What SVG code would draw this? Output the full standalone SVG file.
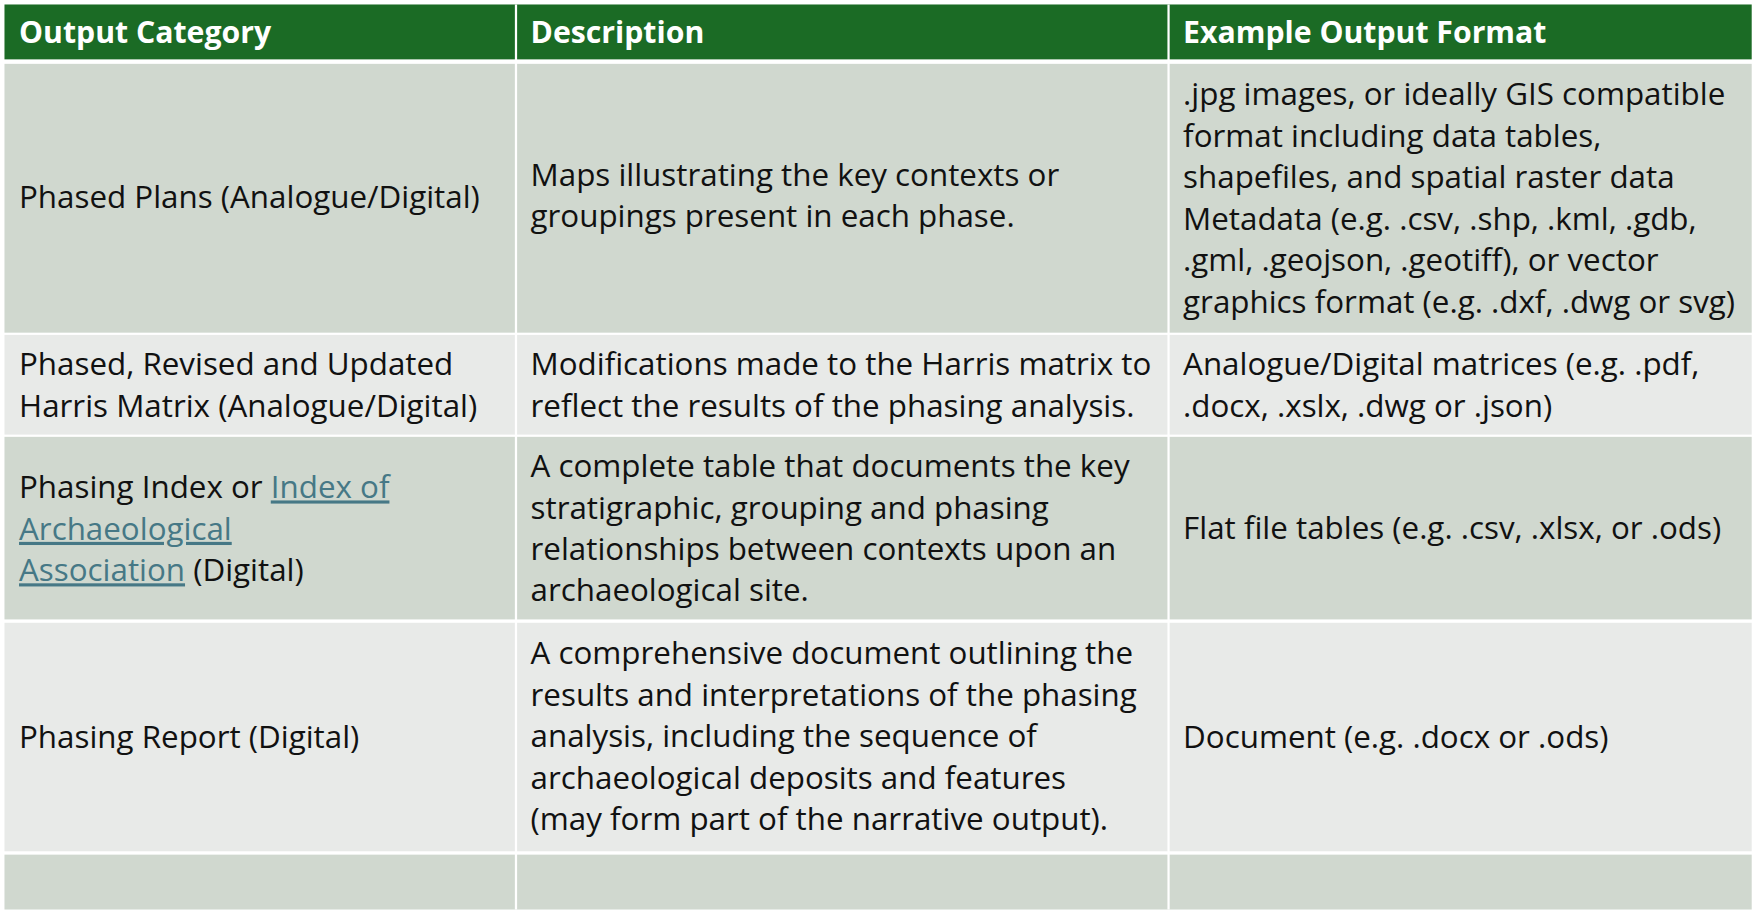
<svg xmlns="http://www.w3.org/2000/svg" width="1755" height="914" viewBox="0 0 1755 914">
<style>
text{font-family:"Open Sans","Liberation Sans",Arial,sans-serif;font-size:28px;fill:#111}
.h{font-weight:bold;fill:#fff;font-size:27px}
.a{fill:#d0d8cf}.b{fill:#e8eae8}
.l{fill:#467886;text-decoration:underline}
</style>
<rect width="1755" height="914" fill="#fff"/>
<g transform="scale(1.1193,1.1201)">
<g id="header">
<rect x="4" y="4" width="1561" height="49" fill="#1b6b25"/>
<text class="h" x="17" y="38">Output Category</text>
<text class="h" x="474" y="38">Description</text>
<text class="h" x="1057" y="38">Example Output Format</text>
</g>
<g id="row1">
<rect class="a" x="4" y="57" width="1561" height="240"/>
<text x="17" y="186">Phased Plans (Analogue/Digital)</text>
<text x="474" y="166">Maps illustrating the key contexts or</text>
<text x="474" y="203">groupings present in each phase.</text>
<text x="1057" y="94">.jpg images, or ideally GIS compatible</text>
<text x="1057" y="131">format including data tables,</text>
<text x="1057" y="168">shapefiles, and spatial raster data</text>
<text x="1057" y="205">Metadata (e.g. .csv, .shp, .kml, .gdb,</text>
<text x="1057" y="242">.gml, .geojson, .geotiff), or vector</text>
<text x="1057" y="279">graphics format (e.g. .dxf, .dwg or svg)</text>
</g>
<g id="row2">
<rect class="b" x="4" y="299" width="1561" height="89"/>
<text x="17" y="335">Phased, Revised and Updated</text>
<text x="17" y="372">Harris Matrix (Analogue/Digital)</text>
<text x="474" y="335">Modifications made to the Harris matrix to</text>
<text x="474" y="372">reflect the results of the phasing analysis.</text>
<text x="1057" y="335">Analogue/Digital matrices (e.g. .pdf,</text>
<text x="1057" y="372">.docx, .xslx, .dwg or .json)</text>
</g>
<g id="row3">
<rect class="a" x="4" y="390" width="1561" height="163"/>
<text x="17" y="445">Phasing Index or <tspan class="l">Index of</tspan></text>
<text x="17" y="482"><tspan class="l">Archaeological</tspan></text>
<text x="17" y="519"><tspan class="l">Association</tspan> (Digital)</text>
<text x="474" y="426">A complete table that documents the key</text>
<text x="474" y="463">stratigraphic, grouping and phasing</text>
<text x="474" y="500">relationships between contexts upon an</text>
<text x="474" y="537">archaeological site.</text>
<text x="1057" y="481">Flat file tables (e.g. .csv, .xlsx, or .ods)</text>
</g>
<g id="row4">
<rect class="b" x="4" y="556" width="1561" height="204"/>
<text x="17" y="668">Phasing Report (Digital)</text>
<text x="474" y="593">A comprehensive document outlining the</text>
<text x="474" y="630">results and interpretations of the phasing</text>
<text x="474" y="667">analysis, including the sequence of</text>
<text x="474" y="704">archaeological deposits and features</text>
<text x="474" y="741">(may form part of the narrative output).</text>
<text x="1057" y="668">Document (e.g. .docx or .ods)</text>
</g>
<g id="row5">
<rect class="a" x="4" y="763" width="1561" height="49"/>
</g>
<g id="connectors" stroke="#fff" stroke-width="2">
<line x1="461" y1="4" x2="461" y2="812"/>
<line x1="1044" y1="4" x2="1044" y2="812"/>
</g>
</g>
</svg>
